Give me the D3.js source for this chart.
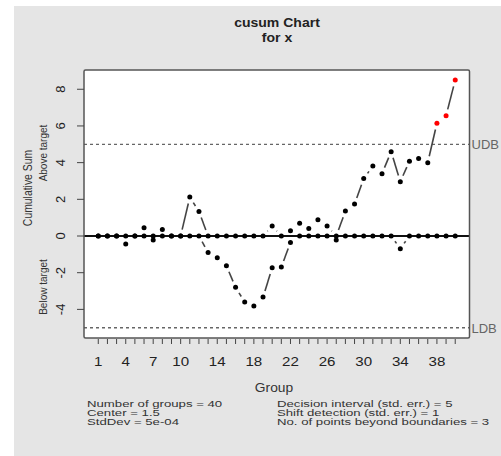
<!DOCTYPE html>
<html><head><meta charset="utf-8">
<script src="https://cdn.jsdelivr.net/npm/d3@7"></script>
<style>body{margin:0;background:#fff}svg{display:block}text{font-family:"Liberation Sans",Arial,sans-serif}</style>
</head><body><svg id="c" width="501" height="456"></svg>
<script>
const groups = d3.range(1, 41);
const upper = [0,0,0,0,0,0.45,0,0.36,0,0,2.12,1.34,0,0,0,0,0,0,0,0.54,0,0.29,0.69,0.41,0.89,0.54,0,1.36,1.74,3.13,3.81,3.4,4.6,2.96,4.08,4.23,4.0,6.15,6.56,8.5];
const lower = [0,0,0,-0.44,0,0,-0.22,0,0,0,0,0,-0.9,-1.18,-1.62,-2.8,-3.6,-3.81,-3.33,-1.73,-1.69,-0.35,0,0,0,0,-0.22,0,0,0,0,0,0,-0.69,0,0,0,0,0,0];
const xTickLabels = [1,4,7,10,14,18,22,26,30,34,38];
const yTicks = [-4,-2,0,2,4,6,8];
const decision = 5;
const statsLeft = ["Number of groups = 40","Center = 1.5","StdDev = 5e-04"];
const statsRight = ["Decision interval (std. err.) = 5","Shift detection (std. err.) = 1","No. of points beyond boundaries = 3"];

const svg = d3.select("#c");
svg.append("rect").attr("x",14).attr("y",6).attr("width",487).attr("height",450).attr("fill","#e5e5e5");
const L=84,R=469.5,T=70,B=338;
const x = d3.scaleLinear().domain([-0.56,41.56]).range([L,R]);
const y = d3.scaleLinear().domain([-5.56,9.05]).range([B,T]);
svg.append("rect").attr("x",L).attr("y",T).attr("width",R-L).attr("height",B-T).attr("fill","#fff");

// text helper with horizontal stretch (reference image is stretched horizontally)
function txt(px,py,s,opt){
  opt=opt||{};
  const t=svg.append("text")
    .attr("transform",`translate(${px},${py})${opt.rot?" rotate(-90)":""} scale(${opt.sx||1},${opt.sy||1})`)
    .attr("text-anchor",opt.anchor||"start").attr("font-size",opt.fs||12)
    .attr("fill",opt.fill||"#333").text(s);
  if(opt.bold) t.attr("font-weight","bold");
  return t;
}

// title
txt(277,27,"cusum Chart",{anchor:"middle",bold:true,fs:13,sx:1.08,fill:"#222"});
txt(277,42,"for x",{anchor:"middle",bold:true,fs:13,sx:1.08,fill:"#222"});

// boundaries
[decision,-decision].forEach((v,i)=>{
  svg.append("line").attr("x1",L).attr("x2",R).attr("y1",y(v)).attr("y2",y(v)).attr("stroke","#666").attr("stroke-width",1.3).attr("stroke-dasharray","3,3");
  txt(R+2,y(v)+5,i===0?"UDB":"LDB",{fs:13,fill:"#666"});
});
// center line
svg.append("line").attr("x1",L).attr("x2",R).attr("y1",y(0)).attr("y2",y(0)).attr("stroke","#111").attr("stroke-width",2);

// type "b" lines
function drawSeries(vals){
  const gap=6.5;
  for(let i=0;i<vals.length-1;i++){
    const x1=x(groups[i]),y1=y(vals[i]),x2=x(groups[i+1]),y2=y(vals[i+1]);
    const dx=x2-x1,dy=y2-y1,len=Math.hypot(dx,dy);
    if(len<=2*gap) continue;
    const ux=dx/len,uy=dy/len;
    svg.append("line").attr("x1",x1+ux*gap).attr("y1",y1+uy*gap).attr("x2",x2-ux*gap).attr("y2",y2-uy*gap)
      .attr("stroke","#444").attr("stroke-width",1.6);
  }
  vals.forEach((v,i)=>{
    svg.append("circle").attr("cx",x(groups[i])).attr("cy",y(v)).attr("r",2.5)
      .attr("fill",(v>decision||v<-decision)?"#ff0000":"#000");
  });
}
drawSeries(upper);
drawSeries(lower);

// box
svg.append("rect").attr("x",L).attr("y",T).attr("width",R-L).attr("height",B-T).attr("fill","none").attr("stroke","#555").attr("stroke-width",1.5).attr("rx",1.5);

// x axis
groups.forEach(g=>{
  svg.append("line").attr("x1",x(g)).attr("x2",x(g)).attr("y1",B+1).attr("y2",B+6).attr("stroke","#444").attr("stroke-width",1);
});
xTickLabels.forEach(g=>txt(x(g),366,g,{anchor:"middle",fs:13.5,sx:1.12,fill:"#222"}));
txt(274,392,"Group",{anchor:"middle",fs:12,sx:1.15});

// y axis
yTicks.forEach(v=>{
  svg.append("line").attr("x1",L-7).attr("x2",L).attr("y1",y(v)).attr("y2",y(v)).attr("stroke","#444").attr("stroke-width",1);
  txt(65,y(v),v,{anchor:"middle",fs:13,rot:true,fill:"#222"});
});
txt(32,188,"Cumulative Sum",{anchor:"middle",fs:13,rot:true,sx:0.8});
txt(47,153,"Above target",{anchor:"middle",fs:10,rot:true});
txt(47,287,"Below target",{anchor:"middle",fs:10,rot:true});

// stats
statsLeft.forEach((s,i)=>txt(87,406.5+i*9.3,s,{fs:8.8,sx:1.5}));
statsRight.forEach((s,i)=>txt(277,406.5+i*9.3,s,{fs:8.8,sx:1.5}));
</script></body></html>
